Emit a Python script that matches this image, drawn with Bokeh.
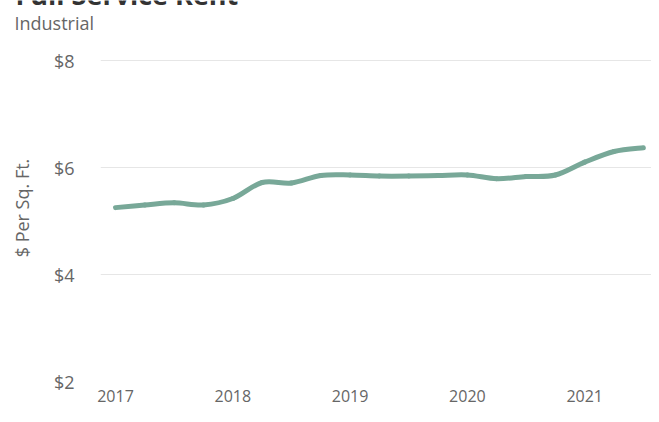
from bokeh.plotting import figure
from bokeh.layouts import column
from bokeh.models import Range1d, FixedTicker, PrintfTickFormatter, Label
from bokeh.embed import file_html
from bokeh.resources import INLINE

# Data (quarterly, Industrial full service rent, $ per sq. ft.)
quarters = [2017.00, 2017.25, 2017.50, 2017.75,
            2018.00, 2018.25, 2018.50, 2018.75,
            2019.00, 2019.25, 2019.50, 2019.75,
            2020.00, 2020.25, 2020.50, 2020.75,
            2021.00, 2021.25, 2021.50]
rent = [5.25, 5.30, 5.34, 5.30,
        5.42, 5.72, 5.71, 5.85,
        5.86, 5.84, 5.84, 5.85,
        5.86, 5.79, 5.83, 5.86,
        6.10, 6.30, 6.37]
x_ticks = [2017, 2018, 2019, 2020, 2021]
y_ticks = [2, 4, 6, 8]
title_text = "Full Service Rent"
subtitle_text = "Industrial"
y_title = "$ Per Sq. Ft."

FONT = "Open Sans"
GRAY = "#666666"
LINE = "#78a898"
W = 651
HEAD_H = 34
MAIN_H = 372

# Header strip holding the (cut-off) title and the subtitle
head = figure(width=W, height=HEAD_H, output_backend="svg", toolbar_location=None,
              x_range=Range1d(0, W), y_range=Range1d(0, HEAD_H),
              x_axis_type=None, y_axis_type=None, min_border=0)
head.outline_line_color = None
head.grid.visible = False
head_left = 0
if "frame_align" in head.properties():
    head.frame_align = False
else:
    head_left = 100
head.add_layout(Label(x=15 - head_left, y=HEAD_H + 6, x_units="screen", y_units="screen",
                      text=title_text, text_font=FONT, text_font_size="27px",
                      text_font_style="bold", text_color="#333333",
                      text_baseline="alphabetic"))
head.add_layout(Label(x=14 - head_left, y=HEAD_H - 22, x_units="screen", y_units="screen",
                      text=subtitle_text, text_font=FONT, text_font_size="18px",
                      text_color=GRAY, text_baseline="middle"))

# Main chart
p = figure(width=W, height=MAIN_H, output_backend="svg", toolbar_location=None,
           x_range=Range1d(2016.872, 2021.5695), y_range=Range1d(2.0, 8.486),
           min_border_left=100, min_border_right=0, min_border_top=0, min_border_bottom=25)
if "frame_align" in p.properties():
    p.frame_align = False

# Smooth (spline-like) rendering of the series: one cubic Bezier per interval,
# control points taken from the neighbouring data points (Catmull-Rom style)
n = len(quarters)
x0, y0, x1, y1, cx0, cy0, cx1, cy1 = ([] for _ in range(8))
for i in range(n - 1):
    ip, inn = max(i - 1, 0), min(i + 2, n - 1)
    x0.append(quarters[i]); y0.append(rent[i])
    x1.append(quarters[i + 1]); y1.append(rent[i + 1])
    cx0.append(quarters[i] + (quarters[i + 1] - quarters[ip]) / 6)
    cy0.append(rent[i] + (rent[i + 1] - rent[ip]) / 6)
    cx1.append(quarters[i + 1] - (quarters[inn] - quarters[i]) / 6)
    cy1.append(rent[i + 1] - (rent[inn] - rent[i]) / 6)
p.bezier(x0=x0, y0=y0, x1=x1, y1=y1, cx0=cx0, cy0=cy0, cx1=cx1, cy1=cy1,
         line_color=LINE, line_width=5, line_cap="round", line_join="round")

p.outline_line_color = None
p.xgrid.grid_line_color = None
p.ygrid.grid_line_color = "#e6e6e6"

p.yaxis.ticker = FixedTicker(ticks=y_ticks)
p.yaxis.formatter = PrintfTickFormatter(format="$%d")
p.xaxis.ticker = FixedTicker(ticks=x_ticks)
p.xaxis.formatter = PrintfTickFormatter(format="%d")

for ax in (p.xaxis, p.yaxis):
    ax.axis_line_color = None
    ax.major_tick_line_color = None
    ax.minor_tick_line_color = None
    ax.major_label_text_font = FONT
    ax.major_label_text_color = GRAY

p.yaxis.major_label_text_font_size = "18px"
p.yaxis.major_label_standoff = 20
p.yaxis.axis_label = y_title
p.yaxis.axis_label_text_font = FONT
p.yaxis.axis_label_text_font_size = "18px"
p.yaxis.axis_label_text_font_style = "normal"
p.yaxis.axis_label_text_color = GRAY
p.yaxis.axis_label_standoff = 17

p.xaxis.major_label_text_font_size = "16px"
p.xaxis.major_label_standoff = 2

layout = column(head, p, spacing=0)
open("out.html", "w").write(file_html(layout, INLINE))
